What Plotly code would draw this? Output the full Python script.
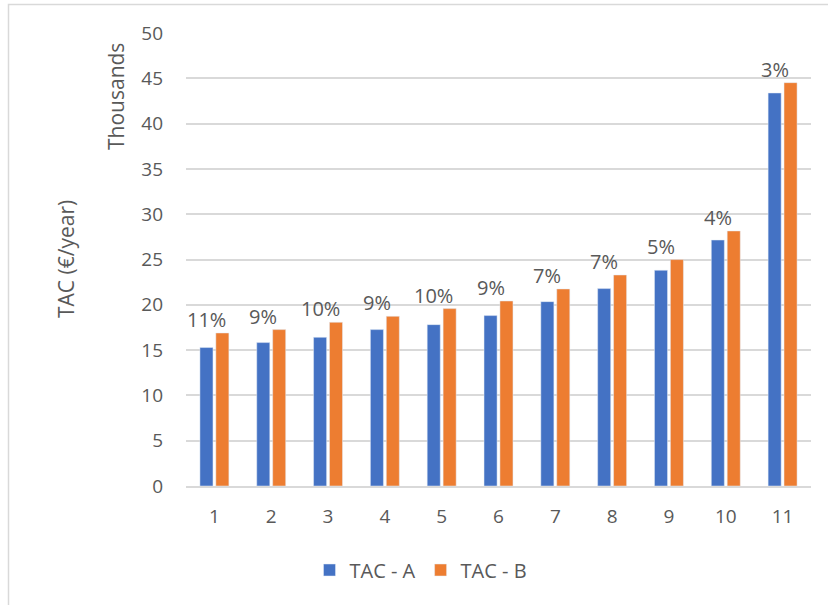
import plotly.graph_objects as go

# Total annual cost per scenario, in thousands of €/year
scenarios = [1, 2, 3, 4, 5, 6, 7, 8, 9, 10, 11]
tac_a = [15.28, 15.83, 16.41, 17.26, 17.81, 18.81, 20.35, 21.79, 23.81, 27.15, 43.38]
tac_b = [16.89, 17.26, 18.07, 18.73, 19.58, 20.42, 21.75, 23.29, 24.99, 28.15, 44.52]
diff_labels = ["11%", "9%", "10%", "9%", "10%", "9%", "7%", "7%", "5%", "4%", "3%"]
y_ticks = [0, 5, 10, 15, 20, 25, 30, 35, 40, 45, 50]

W, H = 828, 605
ML, MR, MT, MB = 186, 17, 33, 119
PW, PH = W - ML - MR, H - MT - MB


def px(x):
    return (x - ML) / PW


def py(y):
    return (H - MB - y) / PH


TXT = "#595959"
GRID = "#d9d9d9"
FONT = "Open Sans, Liberation Sans, sans-serif"
BARGAP = 0.44
GROUPGAP = 0.18

fig = go.Figure()
fig.add_trace(go.Bar(x=scenarios, y=tac_a, name="TAC - A", marker_color="#4472C4"))
fig.add_trace(go.Bar(x=scenarios, y=tac_b, name="TAC - B", marker_color="#ED7D31"))

# percentage labels sit over the first bar of each pair, above the taller bar
slot = (1 - BARGAP) / 2
for s, a, b, lab in zip(scenarios, tac_a, tac_b, diff_labels):
    fig.add_annotation(x=s - slot / 2, y=max(a, b), text=lab, showarrow=False,
                       xanchor="center", yanchor="bottom", yshift=-2,
                       font=dict(size=20, color=TXT, family=FONT))

# axis titles
fig.add_annotation(xref="paper", yref="paper", x=px(66), y=py(259), text="TAC (€/year)",
                   textangle=-90, showarrow=False, xanchor="center", yanchor="middle",
                   font=dict(size=21, color=TXT, family=FONT))
fig.add_annotation(xref="paper", yref="paper", x=px(116), y=py(97), text="Thousands",
                   textangle=-90, showarrow=False, xanchor="center", yanchor="middle",
                   font=dict(size=21, color=TXT, family=FONT))

# chart area border
fig.add_shape(type="rect", xref="paper", yref="paper",
              x0=px(8.5), y0=py(612), x1=px(835), y1=py(4.5),
              line=dict(color=GRID, width=1.5), fillcolor="rgba(0,0,0,0)", layer="below")

fig.update_layout(
    width=W, height=H,
    margin=dict(l=ML, r=MR, t=MT, b=MB),
    paper_bgcolor="white", plot_bgcolor="white",
    barmode="group", bargap=BARGAP, bargroupgap=GROUPGAP,
    font=dict(family=FONT, color=TXT, size=19),
    legend=dict(orientation="h", x=px(421), y=py(570), xanchor="center", yanchor="middle",
                font=dict(size=20, color=TXT, family=FONT), itemwidth=30,
                bgcolor="rgba(0,0,0,0)"),
    showlegend=True,
)
fig.update_xaxes(range=[0.5, 11.5], tickvals=scenarios, ticktext=[str(s) for s in scenarios],
                 showgrid=False, showline=True, linecolor=GRID, linewidth=1.5,
                 ticks="", ticklabelstandoff=12, tickfont=dict(size=19, color=TXT),
                 zeroline=False, fixedrange=True)
fig.update_yaxes(range=[0, 50], tickvals=y_ticks, showgrid=True, gridcolor=GRID, gridwidth=1.5,
                 zeroline=False, showline=False, ticks="", ticklabelstandoff=22,
                 tickfont=dict(size=19, color=TXT), fixedrange=True)

fig.write_html("out.html")
